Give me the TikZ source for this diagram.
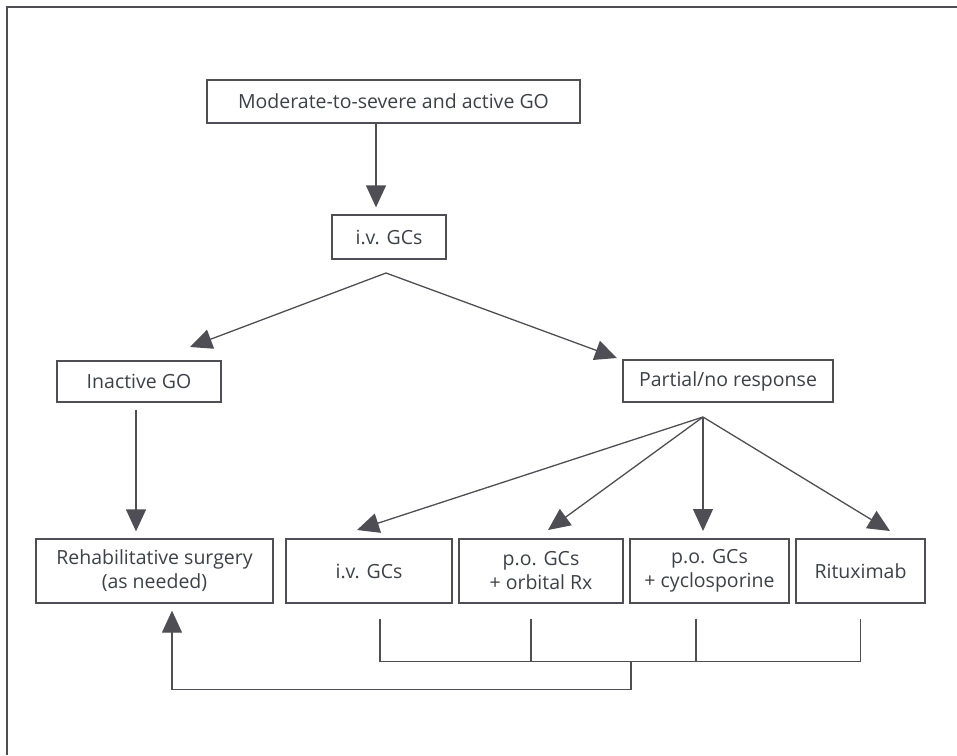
\documentclass[tikz,border=0pt]{standalone}
\usepackage{fontspec}
\setmainfont{Open Sans}
\usetikzlibrary{arrows.meta}
\definecolor{linegray}{RGB}{78,78,84}
\definecolor{inkgray}{RGB}{62,64,72}

\tikzset{
  box/.style={draw=linegray, line width=1.3pt, text=inkgray, inner sep=0pt,
    align=center, font=\fontsize{19.5}{24}\selectfont},
  conn/.style={draw=linegray, line width=1.3pt},
  arr/.style={conn, -{Triangle[width=20pt,length=22pt]}},
}

\begin{document}
\begin{tikzpicture}[x=1pt,y=-1pt]
    \useasboundingbox (0,0) rectangle (957,755);
    % frame
    \draw[conn] (957,7) -- (7,7) -- (7,755);
    % boxes
    \node[box, minimum width=373pt, minimum height=43pt] (top) at (393.5,101.5) {Moderate-to-severe and active GO};
    \node[box, minimum width=114pt, minimum height=44pt] (ivgc) at (389,237) {i.v. GCs};
    \node[box, minimum width=164pt, minimum height=41pt] (inactive) at (139,381.5) {Inactive GO};
    \node[box, minimum width=210pt, minimum height=42pt] (partial) at (728,381) {Partial/no response};
    \node[box, minimum width=237pt, minimum height=64pt] (rehab) at (154.5,571) {Rehabilitative surgery\\(as needed)};
    \node[box, minimum width=166pt, minimum height=64pt] (ivgcb) at (369,571) {i.v. GCs};
    \node[box, minimum width=164pt, minimum height=64pt] (orbital) at (541,571) {p.o. GCs\\+ orbital Rx};
    \node[box, minimum width=159pt, minimum height=64pt] (cyclo) at (709.5,571) {p.o. GCs\\+ cyclosporine};
    \node[box, minimum width=129pt, minimum height=64pt] (ritux) at (860.5,571) {Rituximab};
    % split points and arrow ends
    \coordinate (s1) at (386,273);
    \coordinate (s2) at (703,417);
    \coordinate (t1) at (190,347);
    \coordinate (t2) at (617,358);
    \coordinate (t3) at (357,530);
    \coordinate (t4) at (548,530);
    \coordinate (t5) at (703,531);
    \coordinate (t6) at (890,531);
    \coordinate (j) at (631,661);
    % arrows
    \draw[arr, shorten >=7pt] ([xshift=-17.5pt]top.south) -- ([xshift=-17.5pt]top.south |- ivgc.north);
    \draw[arr] (s1) -- (t1);
    \draw[arr] (s1) -- (t2);
    \draw[arr, shorten <=7pt, shorten >=7pt] ([xshift=-3pt]inactive.south) -- ([xshift=-3pt]inactive.south |- rehab.north);
    \foreach \t in {t3,t4,t5,t6}
      \draw[arr] (s2) -- (\t);
    % bracket back to surgery
    \foreach \n/\dx in {ivgcb/11,orbital/-10,cyclo/-13.5,ritux/0}
      \draw[conn] ([xshift=\dx pt,yshift=-15pt]\n.south) -- ++(0,43);
    \draw[conn] ([xshift=11pt,yshift=-58pt]ivgcb.south) -- ([yshift=-58pt]ritux.south);
    \draw[arr] (j) |- ([xshift=17.5pt,yshift=-86pt]rehab.south) -- ([xshift=17.5pt,yshift=-7pt]rehab.south);
\end{tikzpicture}
\end{document}
